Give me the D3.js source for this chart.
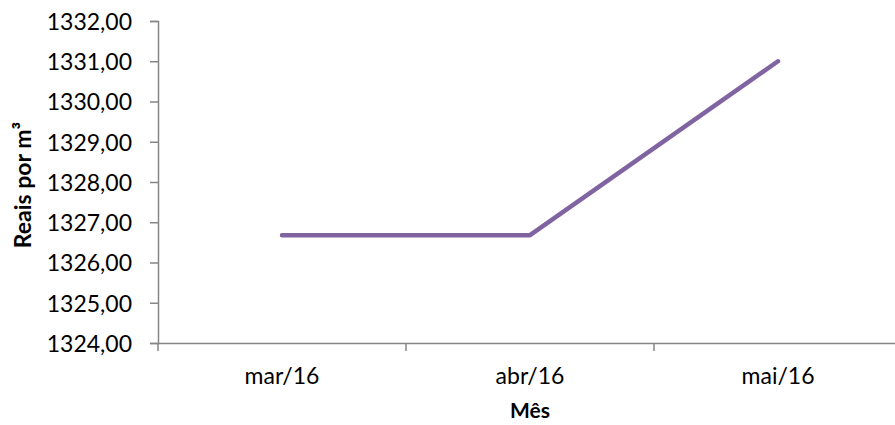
<!DOCTYPE html>
<html><head><meta charset="utf-8">
<script src="https://cdn.jsdelivr.net/npm/d3@7"></script>
<style>body{margin:0;background:#fff}svg{display:block}text{font-family:Lato,"Open Sans",sans-serif;fill:#000}</style>
</head><body>
<script>
const categories = ["mar/16", "abr/16", "mai/16"];
const values = [1326.68, 1326.68, 1331.00];
const yTicks = [1324, 1325, 1326, 1327, 1328, 1329, 1330, 1331, 1332];
const yTitle = "Reais por m³";
const xTitle = "Mês";

const W = 895, H = 425;
const svg = d3.select("body").append("svg").attr("width", W).attr("height", H);
const mLeft = 158, mTop = 21, mBottom = 343, band = 248;
const x = d3.scaleBand().domain(categories).range([mLeft, mLeft + band * categories.length]).padding(0);
const y = d3.scaleLinear().domain([1324, 1332]).range([mBottom, mTop]);
const fmt = v => v.toFixed(2).replace(".", ",");

const yAxis = svg.append("g").attr("transform", `translate(${mLeft},0)`)
  .call(d3.axisLeft(y).tickValues(yTicks).tickFormat(fmt).tickSize(8).tickPadding(18));
yAxis.select(".domain").attr("stroke", "#868686").attr("stroke-width", 1.5);
yAxis.selectAll(".tick line").attr("stroke", "#868686").attr("stroke-width", 1.5);
yAxis.selectAll(".tick text").attr("font-size", 23).attr("font-family", "Lato").attr("fill", "#000").attr("dy", "0.36em");

const xAxis = svg.append("g").attr("transform", `translate(0,${mBottom})`)
  .call(d3.axisBottom(x).tickSize(0).tickPadding(25));
xAxis.select(".domain").attr("stroke", "#868686").attr("stroke-width", 1.5);
xAxis.selectAll(".tick text").attr("font-size", 23).attr("font-family", "Lato").attr("fill", "#000");
const bounds = categories.map(c => x(c)).concat([x(categories[categories.length-1]) + x.bandwidth()]);
svg.append("g").selectAll("line").data(bounds).join("line")
  .attr("x1", d => d).attr("x2", d => d).attr("y1", mBottom).attr("y2", mBottom + 8)
  .attr("stroke", "#868686").attr("stroke-width", 1.5);

const line = d3.line().x((d, i) => x(categories[i]) + x.bandwidth() / 2).y(d => y(d));
svg.append("path").datum(values).attr("d", line)
  .attr("fill", "none").attr("stroke", "#8064A2").attr("stroke-width", 4.5)
  .attr("stroke-linecap", "round").attr("stroke-linejoin", "round");

svg.append("text").attr("transform", `translate(31,185) rotate(-90)`)
  .attr("text-anchor", "middle").attr("font-size", 23).attr("font-weight", "bold").text(yTitle);
svg.append("text").attr("x", x(categories[1]) + x.bandwidth() / 2).attr("y", 418)
  .attr("text-anchor", "middle").attr("font-size", 21).attr("font-weight", "bold").text(xTitle);
</script>
</body></html>
